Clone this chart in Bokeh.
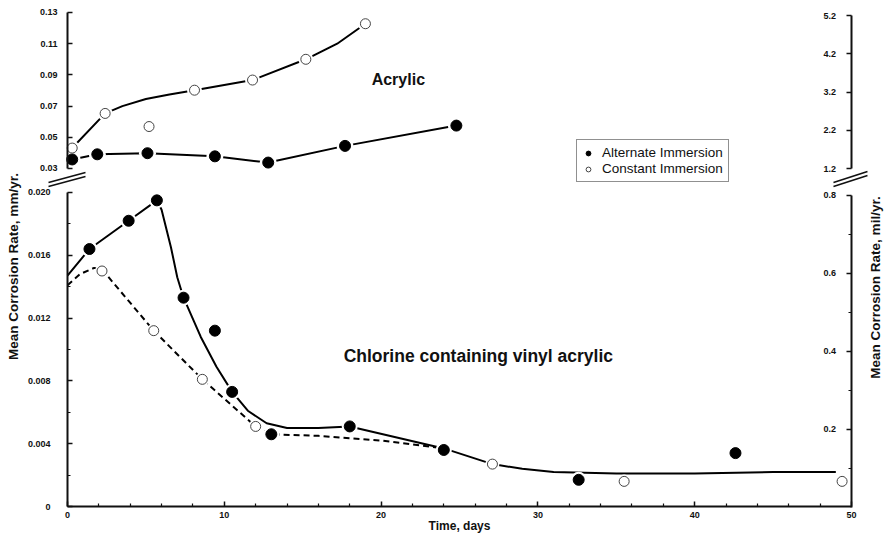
import math
from bokeh.plotting import figure
from bokeh.models import (LinearAxis, Range1d, FixedTicker, PrintfTickFormatter,
                          Label, Legend, LegendItem, Arrow)
from bokeh.embed import file_html
from bokeh.resources import INLINE

# ---------------- data ----------------
# Upper panel: Acrylic, mean corrosion rate in mm/yr
acr_alt_days = [0.3, 1.9, 5.1, 9.4, 12.8, 17.7, 24.8]
acr_alt_rate = [0.0358, 0.0391, 0.0398, 0.0378, 0.0338, 0.0445, 0.0575]
acr_con_days = [0.3, 2.4, 5.2, 8.1, 11.8, 15.2, 19.0]
acr_con_rate = [0.0431, 0.0653, 0.0569, 0.0802, 0.0867, 0.1000, 0.1228]
# hand-drawn trend line through the constant-immersion points
acr_con_curve_days = [0.3, 2.4, 3.5, 5.0, 6.5, 8.1, 11.8, 15.2, 17.2, 19.0]
acr_con_curve_rate = [0.0431, 0.0653, 0.0700, 0.0745, 0.0775, 0.0802, 0.0867, 0.1000, 0.1100, 0.1228]

# Lower panel: Chlorine containing vinyl acrylic, mm/yr
cva_alt_days = [1.4, 3.9, 5.7, 7.4, 9.4, 10.5, 13.0, 18.0, 24.0, 32.6, 42.6]
cva_alt_rate = [0.0164, 0.0182, 0.0195, 0.0133, 0.0112, 0.0073, 0.0046, 0.0051, 0.0036, 0.0017, 0.0034]
cva_con_days = [2.2, 5.5, 8.6, 12.0, 27.1, 35.5, 49.4]
cva_con_rate = [0.0150, 0.0112, 0.0081, 0.0051, 0.0027, 0.0016, 0.0016]
# hand-drawn trend lines
cva_alt_curve_days = [0, 1.4, 3.9, 5.7, 6.0, 6.6, 7.0, 7.4, 8.5, 9.5, 10.5, 11.5, 12.7,
                      14.0, 16.0, 18.0, 24.0, 27.1, 29.0, 31.0, 35.0, 40.0, 45.0, 49.0]
cva_alt_curve_rate = [0.0147, 0.0164, 0.0182, 0.0195, 0.0189, 0.0165, 0.0146, 0.0133, 0.0108,
                      0.0089, 0.0073, 0.0061, 0.0053, 0.0050, 0.0050, 0.0051, 0.0037, 0.0027,
                      0.0024, 0.0022, 0.0021, 0.0021, 0.0022, 0.0022]
cva_con_curve_days = [0, 0.8, 1.7, 2.2, 5.5, 8.6, 12.0, 13.0, 16.0, 20.0, 24.0]
cva_con_curve_rate = [0.0141, 0.0148, 0.0152, 0.0151, 0.0112, 0.0081, 0.0051, 0.0046, 0.0045, 0.0042, 0.0037]

# axis ticks
day_ticks = [0, 10, 20, 30, 40, 50]
day_minor = [2, 4, 6, 8, 12, 14, 16, 18, 22, 24, 26, 28, 32, 34, 36, 38, 42, 44, 46, 48]
top_mm_ticks = [0.03, 0.05, 0.07, 0.09, 0.11, 0.13]
top_mil_ticks = [1.2, 2.2, 3.2, 4.2, 5.2]
bot_mm_ticks = [0, 0.004, 0.008, 0.012, 0.016, 0.020]
bot_mm_minor = [0.002, 0.006, 0.010, 0.014, 0.018]
bot_mil_ticks = [0.2, 0.4, 0.6, 0.8]
bot_mil_minor = [0.1, 0.3, 0.5, 0.7]

FONT = "Liberation Sans"
INK = "#111111"

def style_axis(ax, standoff):
    ax.axis_line_width = 2
    ax.axis_line_color = INK
    ax.major_tick_in = 5
    ax.major_tick_out = 0
    ax.minor_tick_in = 3
    ax.minor_tick_out = 0
    ax.major_tick_line_width = 1.5
    ax.minor_tick_line_width = 1.2
    ax.major_tick_line_color = INK
    ax.minor_tick_line_color = INK
    ax.major_label_text_font = FONT
    ax.major_label_text_font_size = "9px"
    ax.major_label_text_font_style = "bold"
    ax.major_label_text_color = INK
    ax.major_label_standoff = standoff

# The plot frame covers the whole canvas; day 0 sits at x=67, day 50 at x=851,
# 0 mm/yr of the lower panel at y=506, and every axis is pinned with fixed_location.
p = figure(width=885, height=534,
           x_range=Range1d(-4.273, 52.168), y_range=Range1d(-0.0017834, 0.032229),
           output_backend="svg", toolbar_location=None,
           x_axis_location=None, y_axis_location=None,
           min_border_left=0, min_border_right=0, min_border_top=0, min_border_bottom=0,
           outline_line_color=None, background_fill_color="white", border_fill_color="white")
p.xgrid.visible = False
p.ygrid.visible = False
p.extra_y_ranges = {"top": Range1d(-0.204615, 0.137692),
                    "milt": Range1d(-8.36863, 5.59216),
                    "milb": Range1d(-0.069231, 1.3)}

# ---- axes ----
bx = LinearAxis(fixed_location=0, bounds=(0, 50),
                ticker=FixedTicker(ticks=day_ticks, minor_ticks=day_minor))
style_axis(bx, 5)
p.add_layout(bx, "below")

bl = LinearAxis(fixed_location=0, bounds=(0, 0.020),
                ticker=FixedTicker(ticks=bot_mm_ticks, minor_ticks=bot_mm_minor),
                formatter=PrintfTickFormatter(format="%.3f"), major_label_overrides={0: "0"})
style_axis(bl, 17)
p.add_layout(bl, "left")

tl = LinearAxis(fixed_location=0, y_range_name="top", bounds=(0.03, 0.13),
                ticker=FixedTicker(ticks=top_mm_ticks), formatter=PrintfTickFormatter(format="%.2f"))
style_axis(tl, 10)
p.add_layout(tl, "left")

br = LinearAxis(fixed_location=50, y_range_name="milb", bounds=(0, 0.8),
                ticker=FixedTicker(ticks=bot_mil_ticks, minor_ticks=bot_mil_minor),
                formatter=PrintfTickFormatter(format="%.1f"))
style_axis(br, -28)
p.add_layout(br, "right")

tr = LinearAxis(fixed_location=50, y_range_name="milt", bounds=(1.2, 5.2),
                ticker=FixedTicker(ticks=top_mil_ticks), formatter=PrintfTickFormatter(format="%.1f"))
style_axis(tr, -28)
p.add_layout(tr, "right")

def text_label(text, x, y, size, x_units="data", y_units="data", y_range_name="default",
               angle=0.0):
    return Label(x=x, y=y, x_units=x_units, y_units=y_units, y_range_name=y_range_name,
                 text=text, angle=angle, text_font=FONT, text_font_size=size,
                 text_font_style="bold", text_align="center", text_baseline="middle",
                 text_color=INK)

# axis titles (screen offsets from the frame's lower-left corner)
p.add_layout(text_label("Time, days", 25, 9, "12px", y_units="screen"))
p.add_layout(text_label("Mean Corrosion Rate, mm/yr.", 13, 268, "13.5px",
                        x_units="screen", y_units="screen", angle=math.pi / 2))
p.add_layout(text_label("Mean Corrosion Rate, mil/yr.", 875, 247, "13.5px",
                        x_units="screen", y_units="screen", angle=math.pi / 2))

# ---- upper panel: Acrylic ----
p.line(acr_con_curve_days, acr_con_curve_rate, y_range_name="top", line_color="black", line_width=2)
p.line(acr_alt_days, acr_alt_rate, y_range_name="top", line_color="black", line_width=2)
p.scatter(acr_alt_days, acr_alt_rate, y_range_name="top", size=17, fill_color="white", line_color=None)
p.scatter(acr_con_days, acr_con_rate, y_range_name="top", size=15, fill_color="white", line_color=None)
r_alt = p.scatter(acr_alt_days, acr_alt_rate, y_range_name="top", size=11,
                  fill_color="black", line_color="black")
r_con = p.scatter(acr_con_days, acr_con_rate, y_range_name="top", size=10,
                  fill_color="white", line_color="#444444", line_width=1)
p.add_layout(text_label("Acrylic", 21.1, 0.087, "16px", y_range_name="top"))

# ---- lower panel: chlorine containing vinyl acrylic ----
p.line(cva_con_curve_days, cva_con_curve_rate, line_color="black", line_width=2, line_dash="6 4")
p.line(cva_alt_curve_days, cva_alt_curve_rate, line_color="black", line_width=2)
p.scatter(cva_alt_days, cva_alt_rate, size=16, fill_color="white", line_color=None)
p.scatter(cva_con_days, cva_con_rate, size=14, fill_color="white", line_color=None)
p.scatter(cva_alt_days, cva_alt_rate, size=11, fill_color="black", line_color="black")
p.scatter(cva_con_days, cva_con_rate, size=10, fill_color="white", line_color="#444444", line_width=1)
p.add_layout(text_label("Chlorine containing vinyl acrylic", 26.2, 0.0096, "17.5px"))

# ---- legend ----
legend = Legend(items=[LegendItem(label="Alternate Immersion", renderers=[r_alt]),
                       LegendItem(label="Constant Immersion", renderers=[r_con])],
                location=(576, 352), padding=5, spacing=1, margin=0,
                glyph_width=12, glyph_height=14, label_height=14, label_standoff=8,
                label_text_font=FONT, label_text_font_size="13.5px", label_text_color=INK,
                border_line_color="#222222", border_line_width=1,
                background_fill_color="white", background_fill_alpha=1)
p.add_layout(legend)

# ---- axis break marks (screen offsets from the frame's lower-left corner) ----
for (x0, y0, x1, y1) in [(48, 352, 85, 362), (48, 348, 85, 358),
                         (833, 352, 867, 363), (833, 348, 867, 359)]:
    p.add_layout(Arrow(end=None, x_start=x0, y_start=y0, x_end=x1, y_end=y1,
                       start_units="screen", end_units="screen",
                       line_color=INK, line_width=1.6))

open("out.html", "w").write(file_html(p, INLINE))
